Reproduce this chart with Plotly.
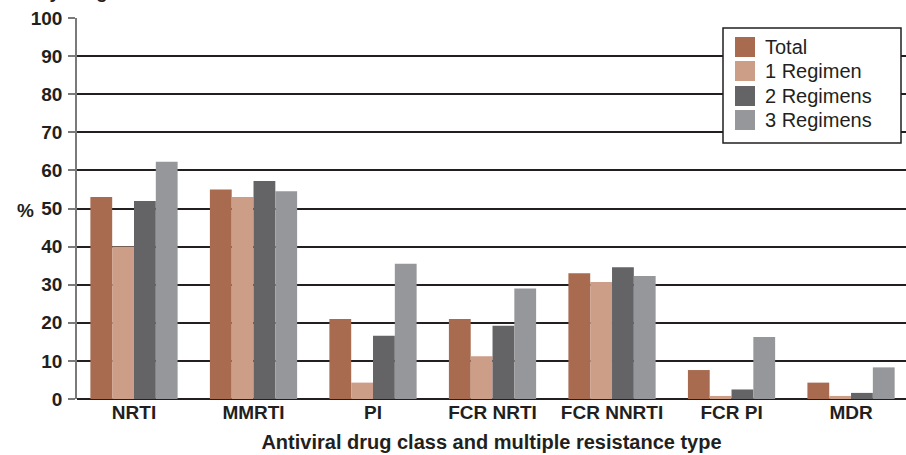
import plotly.graph_objects as go

categories = ["NRTI", "MMRTI", "PI", "FCR NRTI", "FCR NNRTI", "FCR PI", "MDR"]
total = [53, 55, 21, 21, 33, 7.6, 4.3]
one_regimen = [40, 53, 4.3, 11.2, 30.7, 0.8, 0.8]
two_regimens = [52, 57.2, 16.6, 19.2, 34.6, 2.5, 1.6]
three_regimens = [62.3, 54.5, 35.5, 29, 32.3, 16.3, 8.3]
y_ticks = [0, 10, 20, 30, 40, 50, 60, 70, 80, 90, 100]

series_names = ["Total", "1 Regimen", "2 Regimens", "3 Regimens"]
series_values = [total, one_regimen, two_regimens, three_regimens]
series_colors = ["#a86b4f", "#cc9d87", "#646466", "#96979b"]

ink = "#231f20"
fam = "Liberation Sans, Arial, sans-serif"
fig = go.Figure()
for name, vals, col in zip(series_names, series_values, series_colors):
    fig.add_trace(go.Bar(x=categories, y=vals, name=name, showlegend=False,
                         marker=dict(color=col, line=dict(width=0))))

W, H = 906, 455
L, R, T, B = 77, 0, 18, 56
pw = W - L - R
ph = H - T - B


def px(x):
    return (x - L) / pw


def py(y):
    return (H - B - y) / ph


fig.update_layout(
    width=W, height=H,
    margin=dict(l=L, r=R, t=T, b=B, pad=0),
    paper_bgcolor="white", plot_bgcolor="white",
    barmode="group", bargap=0.27, bargroupgap=0,
    font=dict(family=fam, color=ink),
    xaxis=dict(
        range=[-0.477, 6.46], showgrid=False, showline=False, ticks="",
        tickfont=dict(size=19, family=fam, color=ink, weight="bold"),
        title=dict(text="<b>Antiviral drug class and multiple resistance type</b>",
                   font=dict(size=20, family=fam, color=ink), standoff=12),
        fixedrange=True,
    ),
    yaxis=dict(
        range=[0, 100], tickvals=y_ticks, ticktext=[f"<b>{v}</b>" for v in y_ticks],
        showgrid=True, gridcolor=ink, gridwidth=1.5,
        showline=True, linecolor="#7a7a7a", linewidth=1.5,
        ticks="outside", ticklen=7, tickcolor="#7a7a7a", tickwidth=1.5,
        tickfont=dict(size=19, color=ink), ticklabelstandoff=2,
        zeroline=True, zerolinecolor=ink, zerolinewidth=2,
        fixedrange=True,
    ),
)

# legend box (drawn manually to match the reference proportions)
fig.add_shape(type="rect", xref="paper", yref="paper", x0=px(723), x1=px(901), y0=py(143), y1=py(28),
              fillcolor="white", line=dict(color=ink, width=1.5), layer="above")
row_y = [47, 71, 96, 120]
for name, col, yc in zip(series_names, series_colors, row_y):
    fig.add_shape(type="rect", xref="paper", yref="paper", x0=px(735), x1=px(755),
                  y0=py(yc + 10), y1=py(yc - 10), fillcolor=col, line=dict(width=0), layer="above")
    fig.add_annotation(text=name, xref="paper", yref="paper", x=px(763), y=py(yc),
                       showarrow=False, xanchor="left", yanchor="middle",
                       font=dict(size=20, color=ink, family=fam))

fig.add_annotation(text="<b>%</b>", xref="paper", yref="paper", x=px(25), y=py(210),
                   showarrow=False, xanchor="center", yanchor="middle", font=dict(size=19, color=ink))
fig.add_annotation(text="<b>by drug</b>", xref="paper", yref="paper", x=px(36), y=py(4),
                   showarrow=False, xanchor="left", yanchor="bottom", font=dict(size=19, color=ink))

fig.write_html("out.html", config={"displayModeBar": False},
               post_script="document.body.style.margin='0';")
